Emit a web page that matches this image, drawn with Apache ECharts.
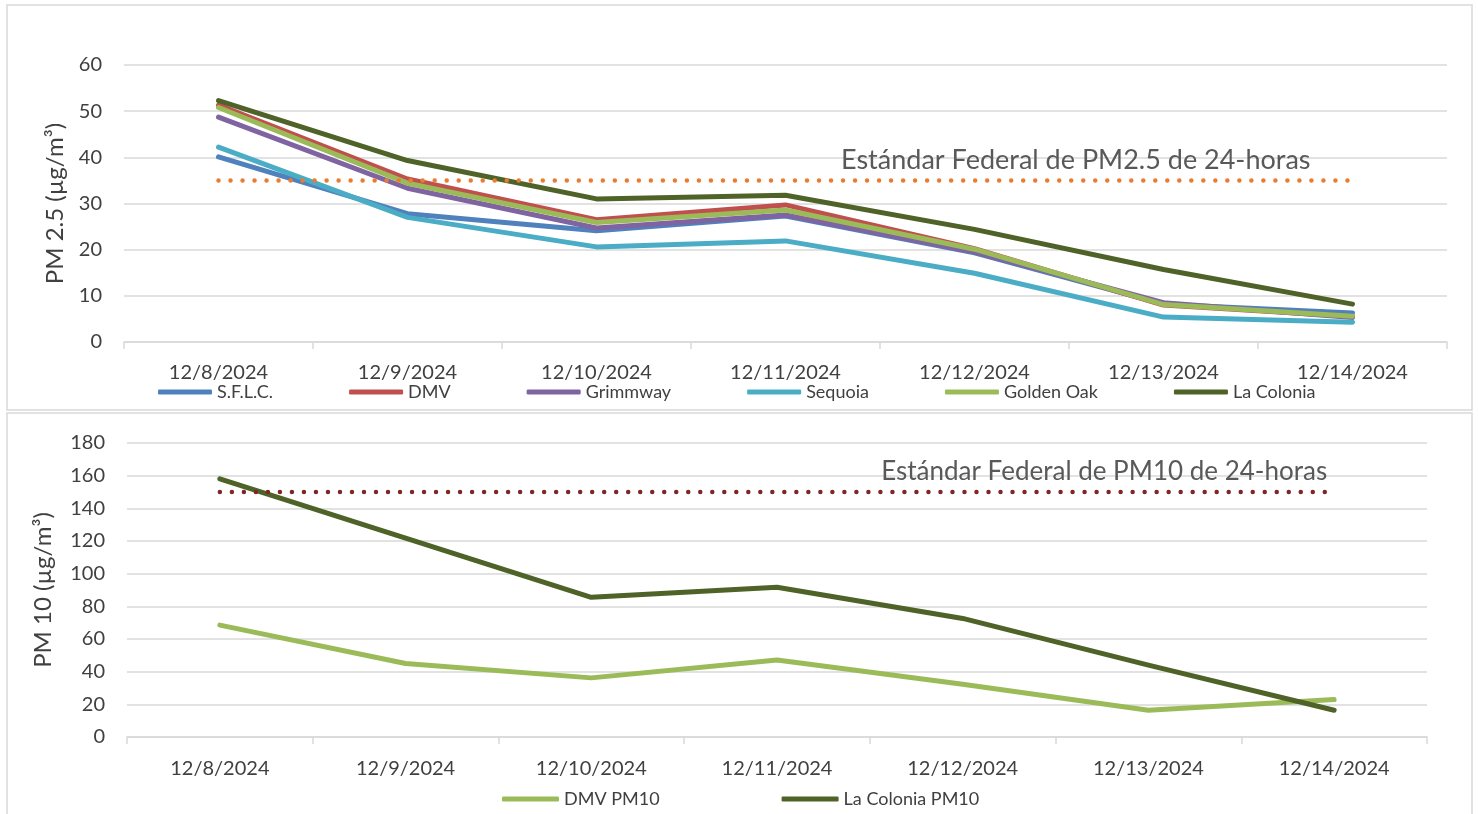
<!DOCTYPE html>
<html>
<head>
<meta charset="utf-8">
<script src="https://cdn.jsdelivr.net/npm/echarts@6/dist/echarts.min.js"></script>
<style>
  html, body { margin: 0; padding: 0; background: #fff; }
  #chart { width: 1478px; height: 814px; }
</style>
</head>
<body>
<div id="chart"></div>
<script>
// categories
const dates = ['12/8/2024', '12/9/2024', '12/10/2024', '12/11/2024', '12/12/2024', '12/13/2024', '12/14/2024'];

// PM 2.5 values
const sflc      = [40.1, 27.8, 24.1, 27.3, 19.3, 8.2, 6.3];
const dmv       = [51.3, 35.3, 26.5, 29.7, 20.2, 8.0, 5.5];
const grimmway  = [48.7, 33.3, 24.7, 27.5, 19.5, 8.5, 5.3];
const sequoia   = [42.2, 27.0, 20.6, 21.9, 14.9, 5.4, 4.3];
const goldenOak = [50.8, 34.4, 25.9, 28.6, 20.1, 8.1, 5.6];
const laColonia = [52.3, 39.3, 31.0, 31.8, 24.4, 15.7, 8.2];
const pm25Std   = [35, 35, 35, 35, 35, 35, 35];

// PM 10 values
const dmvPm10       = [68.5, 45.0, 36.2, 47.1, 32.3, 16.4, 22.9];
const laColoniaPm10 = [158.1, 121.7, 85.5, 91.7, 72.6, 44.0, 16.4];
const pm10Std       = [150, 150, 150, 150, 150, 150, 150];

const pm25Ticks = { min: 0, max: 60, interval: 10 };
const pm10Ticks = { min: 0, max: 180, interval: 20 };

const font = 'Lato, "Open Sans", sans-serif';
const textColor = '#404040';
const gridColor = '#d9d9d9';

const chart = echarts.init(document.getElementById('chart'));

function xAxisFor(gridIndex, margin) {
    return {
        type: 'category',
        gridIndex: gridIndex,
        data: dates,
        boundaryGap: true,
        axisLine: { lineStyle: { color: gridColor, width: 1.5 } },
        axisTick: { show: true, length: 7, lineStyle: { color: gridColor, width: 1.5 } },
        axisLabel: { color: textColor, fontSize: 20, fontFamily: font, margin: margin },
        splitLine: { show: false }
    };
}

function yAxisFor(gridIndex, ticks, name, nameGap) {
    return {
        type: 'value',
        gridIndex: gridIndex,
        min: ticks.min,
        max: ticks.max,
        interval: ticks.interval,
        name: name,
        nameLocation: 'middle',
        nameGap: nameGap,
        nameTextStyle: { color: textColor, fontSize: 24, fontFamily: font },
        axisLine: { show: false },
        axisTick: { show: false },
        axisLabel: { color: textColor, fontSize: 20, fontFamily: font, margin: 22 },
        splitLine: { lineStyle: { color: gridColor, width: 1.5 } }
    };
}

function lineSeries(name, data, color, axisIndex) {
    return {
        name: name,
        type: 'line',
        xAxisIndex: axisIndex,
        yAxisIndex: axisIndex,
        data: data,
        showSymbol: false,
        symbol: 'none',
        color: color,
        lineStyle: { color: color, width: 5, cap: 'round', join: 'round' },
        emphasis: { disabled: true }
    };
}

// dotted standard line; its caption hangs off the last point
function stdSeries(name, data, color, axisIndex, labelText, offsetX, fontSize) {
    const last = data.length - 1;
    return {
        name: name,
        type: 'line',
        xAxisIndex: axisIndex,
        yAxisIndex: axisIndex,
        showSymbol: true,
        symbol: 'circle',
        symbolSize: 0,
        itemStyle: { color: color },
        lineStyle: { color: color, width: 4.5, type: [0.01, 12], cap: 'round' },
        emphasis: { disabled: true },
        z: 5,
        label: { show: false },
        data: data.map((v, i) => i === last ? {
            value: v,
            label: {
                show: true,
                position: 'top',
                align: 'right',
                distance: 7,
                offset: [offsetX, 0],
                formatter: labelText,
                color: '#595959',
                fontSize: fontSize,
                fontFamily: font
            }
        } : v)
    };
}

const legendText = { color: textColor, fontSize: 18, fontFamily: font };

const option = {
    backgroundColor: '#fff',
    animation: false,
    graphic: [
        { type: 'rect', shape: { x: 7, y: 5, width: 1465, height: 405 }, style: { fill: 'none', stroke: gridColor, lineWidth: 1.5 } },
        { type: 'rect', shape: { x: 7, y: 413, width: 1465, height: 410 }, style: { fill: 'none', stroke: gridColor, lineWidth: 1.5 } }
    ],
    grid: [
        { left: 124, right: 31, top: 65, height: 277 },
        { left: 127, right: 51, top: 443, height: 294 }
    ],
    legend: [
        {
            data: ['S.F.L.C.', 'DMV', 'Grimmway', 'Sequoia', 'Golden Oak', 'La Colonia'],
            left: 153, top: 378,
            itemWidth: 54, itemHeight: 5, itemGap: 76,
            icon: 'roundRect',
            textStyle: legendText,
            selectedMode: false
        },
        {
            data: ['DMV PM10', 'La Colonia PM10'],
            left: 497, top: 785,
            itemWidth: 57, itemHeight: 5, itemGap: 122,
            icon: 'roundRect',
            textStyle: legendText,
            selectedMode: false
        }
    ],
    xAxis: [xAxisFor(0, 21), xAxisFor(1, 22)],
    yAxis: [
        yAxisFor(0, pm25Ticks, 'PM 2.5 (µg/m³)', 57),
        yAxisFor(1, pm10Ticks, 'PM 10 (µg/m³)', 72)
    ],
    series: [
        lineSeries('S.F.L.C.', sflc, '#4F81BD', 0),
        lineSeries('DMV', dmv, '#C0504D', 0),
        lineSeries('Grimmway', grimmway, '#8064A2', 0),
        lineSeries('Sequoia', sequoia, '#4BACC6', 0),
        lineSeries('Golden Oak', goldenOak, '#9BBB59', 0),
        lineSeries('La Colonia', laColonia, '#4F6228', 0),
        stdSeries('PM2.5 Std', pm25Std, '#E97C30', 0, 'Estándar Federal de PM2.5 de 24-horas', -42, 27),
        lineSeries('DMV PM10', dmvPm10, '#9BBB59', 1),
        lineSeries('La Colonia PM10', laColoniaPm10, '#4F6228', 1),
        stdSeries('PM10 Std', pm10Std, '#7F2626', 1, 'Estándar Federal de PM10 de 24-horas', -7, 26)
    ]
};

chart.setOption(option);
</script>
</body>
</html>
